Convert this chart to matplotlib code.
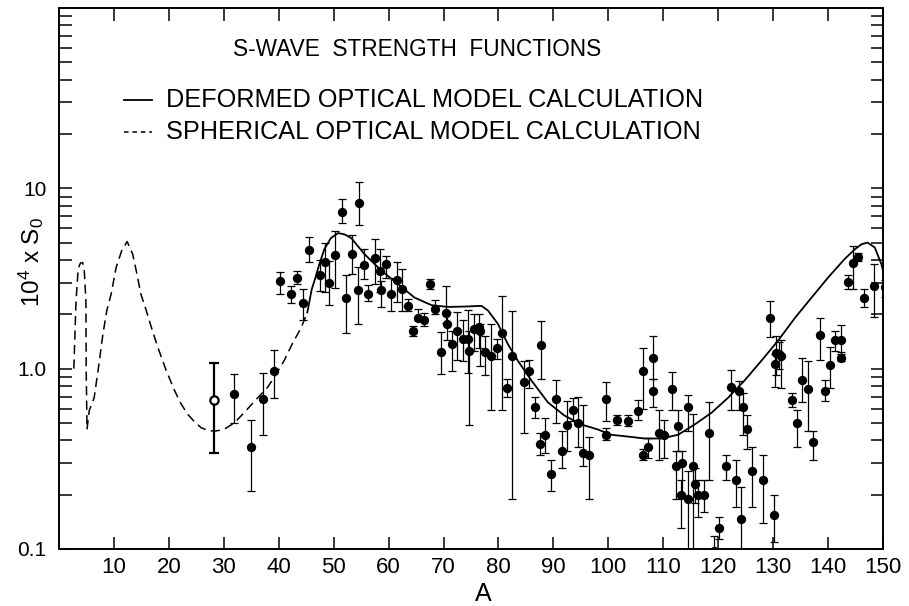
import numpy as np
import matplotlib
matplotlib.use("Agg")
import matplotlib.pyplot as plt
from matplotlib.lines import Line2D
from matplotlib.ticker import FixedLocator, FixedFormatter, LogLocator, NullFormatter

plt.rcParams['font.family'] = ['Liberation Sans', 'DejaVu Sans']
plt.rcParams['mathtext.default'] = 'regular'

# ---- measured s-wave strength functions (mass number A, 10^4 x S0, error limits) ----
mass_number = [31.9, 35.0, 37.1, 39.1, 40.3, 42.3, 43.4, 44.4, 45.6, 47.5,
               48.5, 49.2, 50.3, 51.5, 52.2, 53.4, 54.4, 54.6, 55.5, 56.3,
               57.6, 58.5, 58.7, 59.6, 60.5, 61.6, 62.4, 63.5, 64.4, 65.4,
               66.4, 67.6, 68.5, 69.6, 70.5, 70.6, 71.6, 72.4, 73.5, 74.4,
               74.7, 75.6, 76.4, 76.7, 77.5, 78.6, 79.7, 80.6, 81.5, 82.5,
               84.6, 85.5, 86.6, 87.7, 87.5, 88.4, 89.6, 90.4, 91.6, 92.5,
               93.6, 94.5, 95.4, 96.4, 99.5, 99.5, 101.6, 103.6, 105.4, 106.3,
               106.4, 107.3, 108.2, 108.2, 109.2, 110.2, 111.5, 112.6, 112.4, 113.4,
               113.2, 114.5, 114.5, 115.4, 115.7, 116.3, 117.4, 118.4, 119.2, 120.2,
               121.4, 122.4, 123.3, 123.7, 124.2, 124.5, 125.3, 126.2, 128.2, 129.5,
               130.2, 130.3, 130.5, 131.1, 131.5, 133.5, 134.4, 135.3, 136.4, 137.3,
               138.5, 139.4, 140.3, 141.3, 142.3, 142.3, 143.6, 144.5, 145.5, 146.5,
               148.4, 150.3]
strength = [0.72, 0.37, 0.68, 0.97, 3.07, 2.60, 3.18, 2.30, 4.55, 3.30,
            3.90, 3.00, 4.28, 7.40, 2.45, 4.30, 2.74, 8.30, 3.76, 2.60,
            4.10, 3.46, 2.74, 3.80, 2.60, 3.10, 2.78, 2.23, 1.62, 1.92,
            1.86, 2.95, 2.14, 1.24, 2.03, 1.77, 1.37, 1.62, 1.46, 1.46,
            1.26, 1.66, 1.71, 1.62, 1.23, 1.18, 1.31, 1.57, 0.78, 1.18,
            0.84, 0.97, 0.61, 1.35, 0.38, 0.43, 0.26, 0.68, 0.35, 0.49,
            0.59, 0.50, 0.34, 0.33, 0.68, 0.43, 0.52, 0.51, 0.58, 0.33,
            0.97, 0.37, 1.14, 0.75, 0.44, 0.43, 0.77, 0.48, 0.29, 0.30,
            0.20, 0.61, 0.19, 0.29, 0.23, 0.20, 0.20, 0.44, 0.097, 0.13,
            0.29, 0.79, 0.24, 0.75, 0.146, 0.61, 0.46, 0.27, 0.24, 1.90,
            0.155, 1.06, 1.22, 1.21, 1.17, 0.67, 0.50, 0.86, 0.77, 0.39,
            1.54, 0.75, 1.05, 1.44, 1.44, 1.15, 3.04, 3.85, 4.17, 2.48,
            2.86, 2.82]
strength_low = [0.50, 0.21, 0.43, 0.69, 2.60, 2.32, 2.95, 1.87, 3.88, 2.70,
                2.65, 2.26, 2.81, 6.40, 1.57, 3.34, 1.77, 6.25, 3.14, 2.36,
                2.95, 2.65, 2.19, 3.20, 2.10, 2.33, 2.08, 2.08, 1.52, 1.86,
                1.73, 2.76, 2.00, 0.94, 1.80, 1.45, 0.97, 1.11, 1.10, 0.95,
                0.49, 1.25, 1.30, 1.03, 0.92, 0.59, 1.13, 0.59, 0.70, 0.19,
                0.44, 0.78, 0.53, 0.88, 0.33, 0.34, 0.21, 0.50, 0.28, 0.35,
                0.51, 0.37, 0.29, 0.19, 0.51, 0.40, 0.49, 0.48, 0.52, 0.31,
                0.60, 0.32, 0.88, 0.61, 0.31, 0.32, 0.59, 0.35, 0.19, 0.20,
                0.13, 0.45, 0.05, 0.05, 0.18, 0.15, 0.16, 0.24, 0.05, 0.113,
                0.24, 0.59, 0.17, 0.59, 0.05, 0.43, 0.36, 0.17, 0.14, 1.49,
                0.11, 0.79, 0.92, 1.00, 0.78, 0.61, 0.37, 0.65, 0.45, 0.31,
                1.11, 0.66, 0.78, 1.25, 1.20, 1.10, 2.75, 2.76, 3.97, 2.20,
                1.94, 2.50]
strength_high = [0.94, 0.52, 0.95, 1.27, 3.45, 2.88, 3.50, 2.77, 5.40, 4.00,
                 5.00, 3.97, 5.80, 8.70, 3.30, 5.50, 3.64, 10.8, 4.60, 2.92,
                 5.26, 4.60, 3.07, 4.20, 3.20, 3.90, 3.58, 2.43, 1.73, 2.15,
                 2.04, 3.14, 2.40, 1.59, 2.88, 2.05, 1.62, 2.07, 1.87, 2.12,
                 1.62, 2.02, 2.00, 1.77, 1.52, 1.77, 1.46, 2.52, 0.88, 2.10,
                 1.10, 1.12, 0.70, 1.83, 0.44, 0.53, 0.31, 0.86, 0.45, 0.66,
                 0.69, 0.70, 0.63, 0.42, 0.84, 0.47, 0.55, 0.55, 0.67, 0.36,
                 1.31, 0.41, 1.52, 0.88, 0.59, 0.52, 0.96, 0.59, 0.35, 0.35,
                 0.24, 0.71, 0.27, 0.56, 0.28, 0.24, 0.24, 0.65, 0.118, 0.15,
                 0.33, 0.98, 0.31, 0.85, 0.22, 0.73, 0.55, 0.37, 0.33, 2.36,
                 0.20, 1.20, 1.52, 1.40, 1.45, 0.73, 0.59, 1.14, 1.10, 0.45,
                 1.90, 0.87, 1.32, 1.62, 1.74, 1.23, 3.30, 4.80, 4.40, 2.75,
                 3.80, 3.10]

# separately plotted point (open symbol)
open_mass = [28.2]
open_strength = [0.67]
open_low = [0.34]
open_high = [1.07]

# ---- optical model calculations ----
spherical_A = [2.7, 3.1, 3.5, 3.9, 4.3, 4.6, 4.9, 4.95, 5.1, 5.5,
               6.4, 7.2, 8.0, 8.7, 9.5, 10.4, 11.4, 12.4, 13.4, 14.2,
               14.9, 15.7, 16.8, 18.0, 19.5, 21.0, 22.2, 23.4, 24.6, 25.9,
               27.1, 28.3, 30.0, 31.9, 33.7, 35.6, 38.0, 39.5, 41.0, 42.5,
               44.1, 45.2]
spherical_S = [1.0, 2.38, 3.6, 3.85, 3.88, 3.5, 2.38, 1.0, 0.46, 0.585,
               0.69, 1.02, 1.56, 2.1, 2.6, 3.64, 4.5, 5.07, 4.33, 3.34,
               2.59, 2.19, 1.7, 1.31, 0.98, 0.76, 0.64, 0.56, 0.51, 0.47,
               0.455, 0.45, 0.46, 0.50, 0.57, 0.66, 0.79, 0.93, 1.11, 1.38,
               1.69, 2.05]

deformed_A = [45.2, 46.0, 46.5, 47.4, 48.3, 49.5, 50.8, 52.0, 53.2, 55.6,
              58.7, 61.7, 64.7, 67.8, 70.8, 73.8, 76.9, 78.1, 79.9, 81.7,
              83.5, 86.0, 89.0, 92.0, 95.1, 98.1, 100.5, 103.6, 106.6, 109.7,
              112.7, 115.7, 118.8, 121.8, 124.8, 127.9, 130.9, 133.9, 137.0, 140.0,
              143.0, 144.9, 146.1, 147.2, 148.5, 149.7, 150.0]
deformed_S = [2.05, 2.75, 3.07, 3.8, 4.6, 5.3, 5.65, 5.55, 5.3, 4.32,
              3.49, 2.95, 2.48, 2.25, 2.2, 2.21, 2.23, 2.1, 1.77, 1.37,
              1.11, 0.86, 0.65, 0.55, 0.49, 0.46, 0.43, 0.42, 0.41, 0.41,
              0.43, 0.49, 0.57, 0.69, 0.86, 1.11, 1.43, 1.9, 2.48, 3.2,
              4.05, 4.6, 4.9, 5.0, 4.7, 3.8, 3.5]

x_tick_values = [10, 20, 30, 40, 50, 60, 70, 80, 90, 100, 110, 120, 130, 140, 150]
x_tick_labels = [str(v) for v in x_tick_values]
y_tick_values = [0.1, 1.0, 10.0]
y_tick_labels = ['0.1', '1.0', '10']

W, H = 909, 606
fig = plt.figure(figsize=(W / 100, H / 100), dpi=100)
ax = fig.add_axes([59 / W, 57 / H, (883 - 59) / W, (549 - 8) / H])

ax.set_yscale('log')
ax.set_xlim(0, 150)
ax.set_ylim(0.1, 100)

A = np.array(mass_number)
S = np.array(strength)
lo = np.array(strength_low)
hi = np.array(strength_high)

ax.errorbar(A, S, yerr=[S - lo, hi - S], fmt='o', color='black', ms=5.7,
            elinewidth=0.9, capsize=3.2, capthick=0.9, zorder=3)

oA = np.array(open_mass)
oS = np.array(open_strength)
ax.errorbar(oA, oS, yerr=[oS - np.array(open_low), np.array(open_high) - oS],
            fmt='o', mfc='white', mec='black', mew=1.6, color='black', ms=6,
            elinewidth=1.6, capsize=3.5, capthick=1.6, zorder=4)

ax.plot(spherical_A, spherical_S, color='black', lw=1.1, dashes=(6, 3.5), zorder=2)
ax.plot(deformed_A, deformed_S, color='black', lw=1.3, zorder=2)

for side in ax.spines.values():
    side.set_linewidth(1.4)

ax.xaxis.set_major_locator(FixedLocator(x_tick_values))
ax.xaxis.set_major_formatter(FixedFormatter(x_tick_labels))
ax.yaxis.set_major_locator(FixedLocator(y_tick_values))
ax.yaxis.set_major_formatter(FixedFormatter(y_tick_labels))
ax.yaxis.set_minor_locator(LogLocator(base=10, subs=np.arange(2, 10), numticks=20))
ax.yaxis.set_minor_formatter(NullFormatter())

ax.tick_params(axis='x', which='major', direction='in', top=True, length=9,
               width=1.1, labelsize=16, pad=6)
ax.tick_params(axis='y', which='both', direction='in', right=True, length=9,
               width=1.1, labelsize=15, pad=9)

# axis titles
fig.text(31 / W, 1 - 262 / H, '10$^4$ x S$_0$', rotation=90, ha='center',
         va='center', fontsize=17.5)
fig.text(483 / W, 1 - 594 / H, 'A', ha='center', va='center', fontsize=18)

# heading and key
fig.text(233 / W, 1 - 50 / H, 'S-WAVE  STRENGTH  FUNCTIONS', ha='left',
         va='center', fontsize=16.3)
fig.add_artist(Line2D([124 / W, 152 / W], [1 - 100 / H, 1 - 100 / H],
                      color='black', lw=1.3))
fig.text(166 / W, 1 - 100 / H, 'DEFORMED OPTICAL MODEL CALCULATION', ha='left',
         va='center', fontsize=18.2)
fig.add_artist(Line2D([124 / W, 152 / W], [1 - 132 / H, 1 - 132 / H],
                      color='black', lw=1.1, dashes=(3, 2.5)))
fig.text(166 / W, 1 - 132 / H, 'SPHERICAL OPTICAL MODEL CALCULATION', ha='left',
         va='center', fontsize=18.2)

fig.savefig('out.png', dpi=100)
